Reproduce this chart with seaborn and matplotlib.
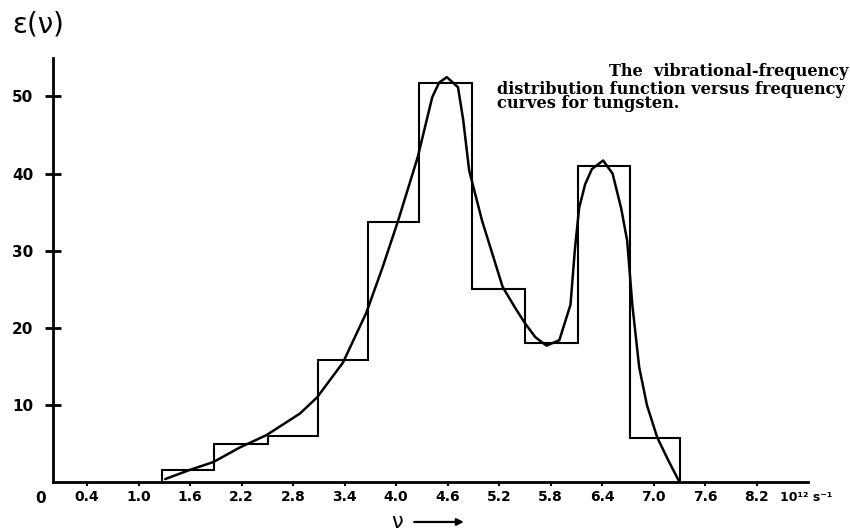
import numpy as np
import pandas as pd
import seaborn as sns
import matplotlib
matplotlib.use('Agg')
import matplotlib.pyplot as plt

## ==============================
## data

# histogram bins (10^12 s^-1) and heights
bin_edges = [1.27, 1.88, 2.51, 3.09, 3.67, 4.27, 4.88, 5.50, 6.12, 6.72, 7.30]
bin_heights = [1.6, 4.9, 6.0, 15.8, 33.7, 51.8, 25.1, 18.0, 41.0, 5.7]

# smooth curve, points
curve_nu = [1.31, 1.60, 1.87, 2.18, 2.49, 2.88, 3.08, 3.38, 3.65, 3.84, 4.02,
            4.25, 4.42, 4.50, 4.59, 4.72, 4.78, 4.85, 5.00, 5.24, 5.38, 5.50,
            5.62, 5.75, 5.90, 6.03, 6.08, 6.13, 6.20, 6.28, 6.41, 6.52, 6.62,
            6.69, 6.75, 6.83, 6.92, 7.04, 7.17, 7.30]
curve_g = [0.4, 1.6, 2.6, 4.5, 6.1, 8.9, 11.0, 15.5, 21.9, 27.8, 33.8,
           42.1, 49.9, 51.8, 52.5, 51.2, 47.0, 40.4, 33.9, 25.3, 22.7, 20.6,
           18.8, 17.7, 18.4, 23.0, 30.0, 35.5, 38.6, 40.6, 41.7, 40.0, 35.5,
           31.3, 23.0, 14.9, 10.0, 5.8, 2.8, 0.0]

x_ticks = [0.4, 1.0, 1.6, 2.2, 2.8, 3.4, 4.0, 4.6, 5.2, 5.8, 6.4, 7.0, 7.6, 8.2]
x_ticklabels = ['0.4', '1.0', '1.6', '2.2', '2.8', '3.4', '4.0', '4.6', '5.2',
                '5.8', '6.4', '7.0', '7.6', '8.2']
y_ticks = [10, 20, 30, 40, 50]

caption = ['The  vibrational-frequency',
           'distribution function versus frequency',
           'curves for tungsten.']

curve_df = pd.DataFrame({'nu': curve_nu, 'g': curve_g})

## ==============================
## plot
sns.set_style('ticks')
plt.rcParams['font.family'] = ['DejaVu Sans']
plt.rcParams['text.color'] = 'black'
plt.rcParams['axes.edgecolor'] = 'black'
plt.rcParams['xtick.color'] = 'black'
plt.rcParams['ytick.color'] = 'black'

fig = plt.figure(figsize=(8.5, 5.31), dpi=100)
ax = fig.add_axes([0.062, 0.092, 0.889, 0.799])

# histogram outline (steps, closed down to the axis at both ends)
ax.stairs(bin_heights, bin_edges, baseline=0, color='black', linewidth=1.5)
# smooth curve
sns.lineplot(data=curve_df, x='nu', y='g', color='black', linewidth=1.8,
             sort=False, ax=ax)

ax.set_xlim(0, 8.8)
ax.set_ylim(0, 55)
ax.set_xticks(x_ticks)
ax.set_xticklabels(x_ticklabels, fontsize=10, fontweight='bold')
ax.set_yticks(y_ticks)
ax.set_yticklabels([str(v) for v in y_ticks], fontsize=11, fontweight='bold')
ax.tick_params(axis='y', direction='inout', length=12, width=2, pad=8)
ax.tick_params(axis='x', direction='out', length=3, width=1.5, pad=3)
ax.set_xlabel('')
ax.set_ylabel('')

sns.despine(ax=ax)
for side in ['left', 'bottom']:
    ax.spines[side].set_linewidth(2)

# origin, unit and axis names
ax.text(-0.14, -1.1, '0', fontsize=11, fontweight='bold', ha='center', va='top',
        clip_on=False)
ax.text(8.78, -1.1, '10¹² s⁻¹', fontsize=9, fontweight='bold', ha='center',
        va='top', clip_on=False)
fig.text(0.467, 0.017, 'ν', fontsize=15, ha='center', va='center')
ax.annotate('', xy=(0.549, 0.017), xytext=(0.484, 0.017),
            xycoords='figure fraction', textcoords='figure fraction',
            arrowprops=dict(arrowstyle='-|>', lw=1.6, color='black',
                            mutation_scale=10))
fig.text(0.014, 0.981, 'ε(ν)', fontsize=20, ha='left', va='top')

# caption
cap_font = dict(fontsize=11.6, fontweight='bold', family='DejaVu Serif')
fig.text(0.998, 0.866, caption[0], ha='right', va='center', **cap_font)
fig.text(0.585, 0.848, caption[1] + '\n' + caption[2], ha='left', va='top',
         linespacing=0.8, **cap_font)

plt.savefig('out.png', dpi=100, facecolor='white')
